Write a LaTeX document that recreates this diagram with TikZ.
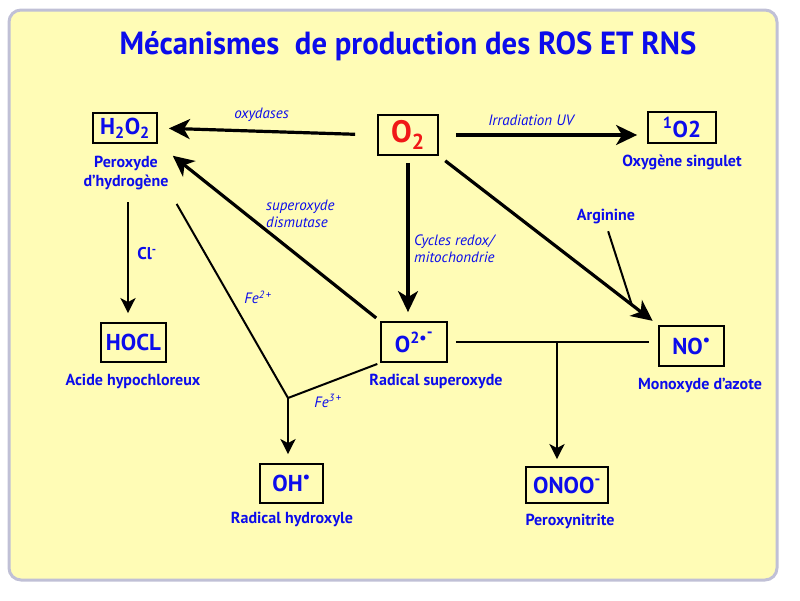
\documentclass[tikz,border=0pt]{standalone}
\usepackage{fontspec}
\setmainfont{PT Sans}
\newfontfamily\titlefont{PT Sans}[FakeStretch=0.96]
\usetikzlibrary{arrows.meta,calc}
\definecolor{paper}{RGB}{255,252,182}
\definecolor{frameline}{RGB}{192,192,214}
\definecolor{ink}{RGB}{12,12,235}
\definecolor{oxred}{RGB}{240,24,24}

\begin{document}
\begin{tikzpicture}[x=1pt,y=-1pt,
  species/.style={draw=black, line width=1.8pt, inner sep=0pt, text=ink,
    font=\bfseries\fontsize{23}{25}\selectfont},
  speciesname/.style={text=ink, font=\bfseries\fontsize{16}{19}\selectfont, align=center, inner sep=0pt},
  enzyme/.style={text=ink, font=\itshape\fontsize{15}{17}\selectfont, align=left, inner sep=0pt},
  flow/.style={line width=3.2pt, -{Stealth[length=21pt,width=20pt,inset=6pt]}},
  smallflow/.style={line width=2.6pt, -{Stealth[length=15pt,width=15pt,inset=4pt]}},
  link/.style={line width=2pt}]
  \useasboundingbox (0,0) rectangle (800,600);
  \draw[draw=frameline, line width=3pt, fill=paper, rounded corners=12pt] (9,10) rectangle (777,580);

  % title
  \node[text=ink, font=\titlefont\bfseries\fontsize{32}{34}\selectfont] (title) at (408,46) {Mécanismes\ \ de production des ROS ET RNS};

  % species
  \node[species, minimum width=64pt, minimum height=30pt] (h2o2) at (125,128) {H\textsubscript{2}O\textsubscript{2}};
  \node[species, minimum width=60pt, minimum height=40pt, text=oxred, font=\bfseries\fontsize{31}{33}\selectfont] (o2) at (408,135) {O\textsubscript{2}};
  \node[species, minimum width=68pt, minimum height=31pt] (singlet) at (682,127.5) {\textsuperscript{1}O2};
  \node[species, minimum width=65pt, minimum height=39pt] (hocl) at (133.5,342.5) {HOCL};
  \node[species, minimum width=66pt, minimum height=40pt] (sup) at (414,342) {O\textsuperscript{2\textbullet\raisebox{.7ex}{-}}};
  \node[species, minimum width=65pt, minimum height=40pt] (no) at (691.5,346) {NO\textsuperscript{\textbullet}};
  \node[species, minimum width=63pt, minimum height=39pt] (oh) at (291.5,483.5) {OH\textsuperscript{\textbullet}};
  \node[species, minimum width=82pt, minimum height=36pt] (onoo) at (567,485) {ONOO\textsuperscript{-}};

  % names under the boxes
  \node[speciesname] (h2o2name) at (126,173) {Peroxyde\\d’hydrogène};
  \node[speciesname] (singletname) at (682,162) {Oxygène singulet};
  \node[speciesname] (hoclname) at (133,381) {Acide hypochloreux};
  \node[speciesname] (supname) at (436,381) {Radical superoxyde};
  \node[speciesname] (noname) at (700,385) {Monoxyde d’azote};
  \node[speciesname] (ohname) at (292,519) {Radical hydroxyle};
  \node[speciesname] (onooname) at (570,521) {Peroxynitrite};
  \node[speciesname] (arginine) at (606,217) {Arginine};

  % junctions
  \coordinate (fe) at (288,398);
  \coordinate (nitro) at (557,343);
  \coordinate (argj) at ($(o2.south east)!0.88!(no.north west)$);

  % reactions
  \draw[flow, shorten <=22pt, shorten >=11pt] (o2.west) -- (h2o2.east)
    node[midway, above=8pt, xshift=-6pt, enzyme] (oxydases) {oxydases};
  \draw[flow, shorten <=17pt, shorten >=10pt] (o2.east) -- (o2.east -| singlet.west)
    node[midway, above=8pt, xshift=-12pt, enzyme] (uv) {Irradiation UV};
  \draw[flow, shorten <=7pt, shorten >=9pt] (o2.south) -- (o2.south |- sup.north);
  \node[enzyme, anchor=west] (redox) at (414,249) {Cycles redox/\\mitochondrie};
  \draw[flow, shorten <=8pt, shorten >=7pt] (o2.south east) -- (no.north west);
  \draw[link, shorten <=7pt] (arginine.south) -- (argj);
  \draw[flow, shorten <=5pt, shorten >=19pt] (sup.north west) -- (h2o2.south east);
  \node[enzyme, anchor=west] (sod) at (266,214) {superoxyde\\dismutase};
  \draw[smallflow, shorten <=12pt, shorten >=9pt] (h2o2name.south) ++(2,0) coordinate (clstart) -- (clstart |- hocl.north);
  \node[speciesname, font=\bfseries\fontsize{17}{18}\selectfont] (cl) at (147,254) {Cl\textsuperscript{-}};
  \draw[link, shorten <=16pt] (h2o2name.south east) -- (fe);
  \node[enzyme] (fe2) at (258,297) {Fe\textsuperscript{2\,+}};
  \draw[link, shorten >=3pt] (fe) -- (sup.south west);
  \node[enzyme] (fe3) at (328,401) {Fe\textsuperscript{3\,+}};
  \draw[smallflow, shorten >=9pt] (fe) -- (fe |- oh.north);
  \draw[link, shorten <=8pt, shorten >=9pt] (sup.east) -- (no.west |- sup.east);
  \draw[smallflow, shorten >=7pt] (nitro) -- (nitro |- onoo.north);
\end{tikzpicture}
\end{document}
